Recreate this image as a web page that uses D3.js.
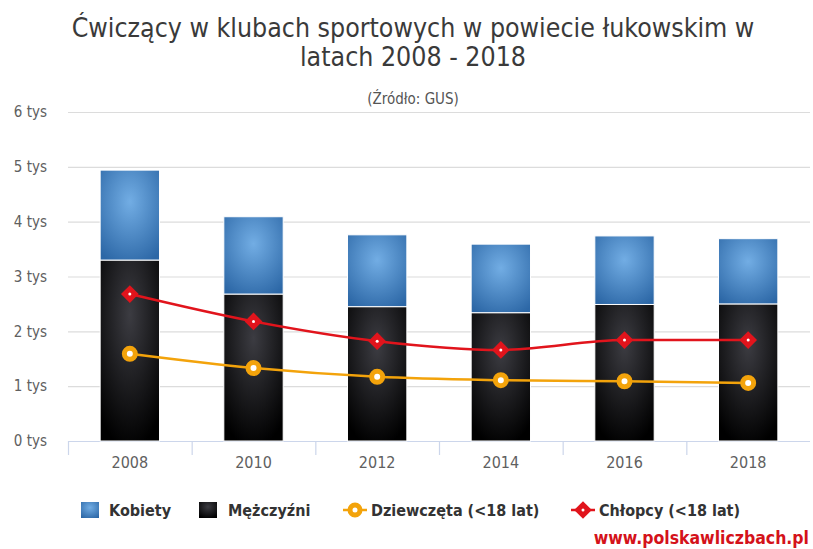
<!DOCTYPE html>
<html>
<head>
<meta charset="utf-8">
<script src="https://cdn.jsdelivr.net/npm/d3@7/dist/d3.min.js"></script>
<style>
  body { margin: 0; background: #fff; }
  svg text { font-family: "DejaVu Sans Condensed", "DejaVu Sans", sans-serif; }
</style>
</head>
<body>
<div id="chart"></div>
<script>
// data (people)
var years = ['2008', '2010', '2012', '2014', '2016', '2018'];
var kobiety = [1640, 1410, 1310, 1250, 1250, 1190];
var mezczyzni = [3300, 2680, 2450, 2340, 2490, 2500];
var dziewczeta = [1590, 1330, 1170, 1110, 1090, 1060];
var chlopcy = [2680, 2180, 1820, 1660, 1840, 1840];
var yTicks = [0, 1000, 2000, 3000, 4000, 5000, 6000];

var W = 813, H = 549;
var plotLeft = 68, plotRight = 810, plotTop = 112, plotBottom = 441;

var svg = d3.select('#chart').append('svg')
    .attr('width', W)
    .attr('height', H);

var defs = svg.append('defs');
var gBlue = defs.append('radialGradient').attr('id', 'gBlue')
    .attr('cx', 0.5).attr('cy', 0.35).attr('r', 0.75);
gBlue.append('stop').attr('offset', 0).attr('stop-color', '#72ade4');
gBlue.append('stop').attr('offset', 1).attr('stop-color', '#2c67a6');
var gBlack = defs.append('radialGradient').attr('id', 'gBlack')
    .attr('cx', 0.5).attr('cy', 0.3).attr('r', 0.75);
gBlack.append('stop').attr('offset', 0).attr('stop-color', '#3c3c42');
gBlack.append('stop').attr('offset', 1).attr('stop-color', '#000000');

var x = d3.scaleBand().domain(years).range([plotLeft, plotRight]);
var y = d3.scaleLinear().domain([0, 6000]).range([plotBottom, plotTop]);
var barW = x.bandwidth() * 0.48;

// titles
svg.append('text')
    .attr('x', 413).attr('y', 37)
    .attr('text-anchor', 'middle')
    .style('font-size', '26.5px').style('fill', '#3a3a3a')
    .text('Ćwiczący w klubach sportowych w powiecie łukowskim w');
svg.append('text')
    .attr('x', 413).attr('y', 66)
    .attr('text-anchor', 'middle')
    .style('font-size', '26.5px').style('fill', '#3a3a3a')
    .text('latach 2008 - 2018');
svg.append('text')
    .attr('x', 413).attr('y', 104)
    .attr('text-anchor', 'middle')
    .style('font-size', '15px').style('fill', '#555')
    .text('(Źródło: GUS)');

// grid + y labels
var yAxis = d3.axisLeft(y).tickValues(yTicks)
    .tickSize(-(plotRight - plotLeft))
    .tickFormat(function(d) { return (d / 1000) + ' tys'; });
var gy = svg.append('g').attr('transform', 'translate(' + plotLeft + ',0)').call(yAxis);
gy.select('.domain').remove();
gy.selectAll('.tick line').attr('stroke', '#dcdcdc').attr('stroke-width', 1.2);
gy.selectAll('.tick text')
    .attr('x', -21)
    .style('font-size', '15px').style('fill', '#606060');

// x axis with ticks on band boundaries
svg.append('line')
    .attr('x1', plotLeft).attr('x2', plotRight)
    .attr('y1', plotBottom + 0.5).attr('y2', plotBottom + 0.5)
    .attr('stroke', '#ccd6eb').attr('stroke-width', 1.2);
var bounds = years.map(function(d) { return x(d); });
svg.selectAll('.xtick').data(bounds).enter().append('line')
    .attr('class', 'xtick')
    .attr('x1', function(d) { return d + 0.5; }).attr('x2', function(d) { return d + 0.5; })
    .attr('y1', plotBottom).attr('y2', plotBottom + 14)
    .attr('stroke', '#ccd6eb').attr('stroke-width', 1.2);
svg.selectAll('.xlab').data(years).enter().append('text')
    .attr('class', 'xlab')
    .attr('x', function(d) { return x(d) + x.bandwidth() / 2; })
    .attr('y', 468)
    .attr('text-anchor', 'middle')
    .style('font-size', '16px').style('fill', '#606060')
    .text(function(d) { return d; });

// stacked bars
var stackData = years.map(function(d, i) {
  return { year: d, m: mezczyzni[i], k: kobiety[i] };
});
svg.selectAll('.barM').data(stackData).enter().append('rect')
    .attr('class', 'barM')
    .attr('x', function(d) { return x(d.year) + (x.bandwidth() - barW) / 2; })
    .attr('y', function(d) { return y(d.m); })
    .attr('width', barW)
    .attr('height', function(d) { return y(0) - y(d.m); })
    .attr('fill', 'url(#gBlack)')
    .attr('stroke', '#fff').attr('stroke-width', 1);
svg.selectAll('.barK').data(stackData).enter().append('rect')
    .attr('class', 'barK')
    .attr('x', function(d) { return x(d.year) + (x.bandwidth() - barW) / 2; })
    .attr('y', function(d) { return y(d.m + d.k); })
    .attr('width', barW)
    .attr('height', function(d) { return y(d.m) - y(d.m + d.k); })
    .attr('fill', 'url(#gBlue)')
    .attr('stroke', '#fff').attr('stroke-width', 1);

// lines
var cx = function(d, i) { return x(years[i]) + x.bandwidth() / 2; };
var line = d3.line().x(cx).y(function(d) { return y(d); }).curve(d3.curveMonotoneX);

svg.append('path').datum(dziewczeta)
    .attr('d', line).attr('fill', 'none')
    .attr('stroke', '#f3a30b').attr('stroke-width', 2.5);
svg.append('path').datum(chlopcy)
    .attr('d', line).attr('fill', 'none')
    .attr('stroke', '#e1141c').attr('stroke-width', 2.5);

// markers
svg.selectAll('.mo').data(dziewczeta).enter().append('circle')
    .attr('cx', cx).attr('cy', function(d) { return y(d); })
    .attr('r', 5.5).attr('fill', '#fff')
    .attr('stroke', '#f3a30b').attr('stroke-width', 5);
var diamond = d3.symbol().type(d3.symbolDiamond2).size(200);
svg.selectAll('.mr').data(chlopcy).enter().append('path')
    .attr('d', diamond)
    .attr('transform', function(d, i) { return 'translate(' + cx(d, i) + ',' + y(d) + ')'; })
    .attr('fill', '#e1141c');
svg.selectAll('.mrd').data(chlopcy).enter().append('circle')
    .attr('cx', cx).attr('cy', function(d) { return y(d); })
    .attr('r', 1.5).attr('fill', '#fff');

// legend
var lg = svg.append('g').attr('transform', 'translate(0,510)');
lg.append('rect').attr('x', 81).attr('y', -8).attr('width', 18).attr('height', 16).attr('fill', 'url(#gBlue)');
lg.append('text').attr('x', 109).attr('y', 6).text('Kobiety');
lg.append('rect').attr('x', 199).attr('y', -8).attr('width', 18).attr('height', 16).attr('fill', 'url(#gBlack)');
lg.append('text').attr('x', 228).attr('y', 6).text('Mężczyźni');
lg.append('line').attr('x1', 343).attr('x2', 367).attr('y1', 0).attr('y2', 0)
    .attr('stroke', '#f3a30b').attr('stroke-width', 2.5);
lg.append('circle').attr('cx', 355).attr('cy', 0).attr('r', 5)
    .attr('fill', '#fff').attr('stroke', '#f3a30b').attr('stroke-width', 5);
lg.append('text').attr('x', 371).attr('y', 6).text('Dziewczęta (<18 lat)');
lg.append('line').attr('x1', 571).attr('x2', 595).attr('y1', 0).attr('y2', 0)
    .attr('stroke', '#e1141c').attr('stroke-width', 2.5);
lg.append('path').attr('d', diamond).attr('transform', 'translate(583,0)').attr('fill', '#e1141c');
lg.append('circle').attr('cx', 583).attr('cy', 0).attr('r', 1.5).attr('fill', '#fff');
lg.append('text').attr('x', 599).attr('y', 6).text('Chłopcy (<18 lat)');
lg.selectAll('text')
    .style('font-size', '16px').style('font-weight', 'bold').style('fill', '#333');

// watermark
svg.append('text')
    .attr('x', 809).attr('y', 544)
    .attr('text-anchor', 'end')
    .style('font-size', '17.5px').style('font-weight', 'bold').style('fill', '#d4121a')
    .text('www.polskawliczbach.pl');
</script>
</body>
</html>
